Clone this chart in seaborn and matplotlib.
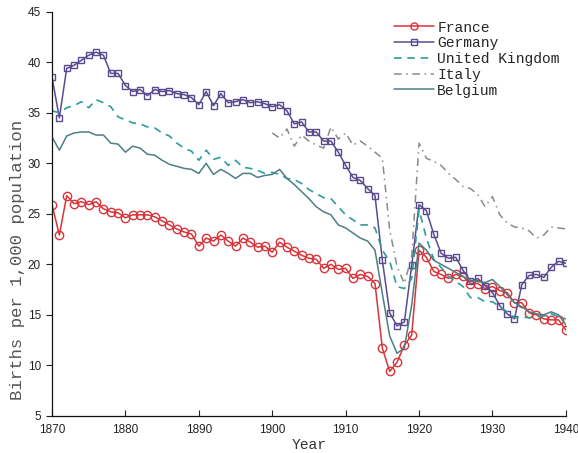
import numpy as np
import pandas as pd
import matplotlib
matplotlib.use("Agg")
import matplotlib.pyplot as plt
import seaborn as sns

years = list(range(1870, 1941))
italy_years = list(range(1900, 1941))

france = [25.9, 22.9, 26.8, 26.0, 26.2, 25.9, 26.2, 25.5, 25.2, 25.1,
          24.6, 24.9, 24.9, 24.9, 24.7, 24.3, 23.9, 23.5, 23.2, 23.0,
          21.8, 22.6, 22.3, 22.9, 22.3, 21.8, 22.6, 22.2, 21.7, 21.8,
          21.2, 22.2, 21.7, 21.3, 20.9, 20.6, 20.5, 19.6, 20.0, 19.5,
          19.6, 18.6, 19.0, 18.8, 18.1, 11.7, 9.4, 10.3, 12.0, 13.0,
          21.4, 20.7, 19.3, 19.0, 18.6, 19.0, 18.8, 18.1, 18.1, 17.6,
          17.8, 17.4, 17.2, 16.2, 16.2, 15.2, 15.0, 14.6, 14.5, 14.5, 13.5]

germany = [38.5, 34.5, 39.4, 39.7, 40.2, 40.7, 41.0, 40.7, 38.9, 38.9,
           37.7, 37.1, 37.3, 36.7, 37.3, 37.1, 37.2, 36.9, 36.8, 36.5,
           35.8, 37.1, 35.7, 36.9, 36.0, 36.1, 36.3, 36.0, 36.1, 35.9,
           35.6, 35.8, 35.2, 33.9, 34.1, 33.1, 33.1, 32.2, 32.2, 31.1,
           29.8, 28.6, 28.3, 27.5, 26.8, 20.4, 15.2, 13.9, 14.3, 19.9,
           25.9, 25.3, 23.0, 21.1, 20.6, 20.7, 19.4, 18.3, 18.6, 17.9,
           17.2, 15.9, 15.1, 14.6, 18.0, 18.9, 19.0, 18.7, 19.7, 20.3, 20.1]

uk = [35.2, 35.0, 35.5, 35.7, 36.1, 35.5, 36.3, 36.0, 35.6, 34.6,
      34.3, 34.0, 33.9, 33.6, 33.5, 33.0, 32.7, 32.0, 31.5, 31.2,
      30.3, 31.3, 30.4, 30.6, 29.8, 30.3, 29.6, 29.5, 29.3, 29.0,
      29.1, 28.9, 28.5, 28.4, 28.0, 27.4, 27.0, 26.6, 26.5, 25.7,
      24.9, 24.4, 23.9, 23.9, 23.6, 21.4, 20.3, 17.8, 17.6, 18.6,
      25.4, 22.6, 20.5, 19.7, 18.8, 18.3, 17.8, 16.7, 16.7, 16.3,
      16.3, 15.8, 15.3, 14.7, 14.8, 14.7, 14.8, 14.9, 15.1, 14.8, 14.6]

belgium = [32.6, 31.3, 32.7, 33.0, 33.1, 33.1, 32.8, 32.8, 32.0, 31.9,
           31.1, 31.7, 31.5, 30.9, 30.8, 30.3, 29.9, 29.7, 29.5, 29.4,
           29.0, 30.0, 28.9, 29.4, 29.0, 28.5, 29.0, 29.0, 28.6, 28.8,
           28.9, 29.4, 28.5, 27.9, 27.2, 26.5, 25.7, 25.2, 24.9, 23.9,
           23.6, 23.1, 22.6, 22.3, 21.4, 17.1, 12.9, 11.2, 11.7, 16.0,
           22.1, 21.4, 20.4, 20.0, 19.6, 19.2, 18.8, 18.4, 18.3, 18.2,
           18.5, 17.8, 17.0, 16.2, 15.8, 15.3, 15.1, 15.0, 15.3, 15.0, 14.0]

italy = [33.0, 32.5, 33.4, 31.7, 32.8, 32.2, 31.8, 31.5, 33.6, 32.4,
         33.0, 31.8, 32.2, 31.7, 31.1, 30.5, 23.4, 19.8, 18.1, 20.8,
         32.0, 30.5, 30.2, 29.8, 29.0, 28.4, 27.7, 27.5, 26.9, 25.7,
         26.7, 24.9, 24.1, 23.7, 23.6, 23.3, 22.6, 22.9, 23.7, 23.6, 23.5]

x_ticks = [1870, 1880, 1890, 1900, 1910, 1920, 1930, 1940]
y_ticks = [5, 10, 15, 20, 25, 30, 35, 40, 45]

sns.set_style("ticks")
plt.rcParams['font.family'] = ['Liberation Sans', 'DejaVu Sans']

fig = plt.figure(figsize=(5.78, 4.53), dpi=100)
ax = fig.add_axes([0.090, 0.082, 0.889, 0.892])

series = [
    ("France", years, france, dict(color="#d8343a", marker="o", ms=6.0, mew=1.0, ls="-", lw=1.1)),
    ("Germany", years, germany, dict(color="#5a4a8e", marker="s", ms=5.0, mew=1.0, ls="-", lw=1.1)),
    ("United Kingdom", years, uk, dict(color="#2e9c9c", marker=None, ls=(0, (4.5, 3.5)), lw=1.2)),
    ("Italy", italy_years, italy, dict(color="#8a8a8a", marker=None, ls=(0, (5, 3, 1, 3)), lw=1.1)),
    ("Belgium", years, belgium, dict(color="#4c7f82", marker=None, ls="-", lw=1.1)),
]

for name, xs, ys, st in series:
    df = pd.DataFrame({"Year": xs, "Rate": ys})
    kw = dict(color=st["color"], linestyle=st["ls"], linewidth=st["lw"])
    if st.get("marker"):
        kw.update(marker=st["marker"], markersize=st["ms"], markerfacecolor="none",
                  markeredgecolor=st["color"], markeredgewidth=st["mew"])
    sns.lineplot(data=df, x="Year", y="Rate", ax=ax, label=name, **kw)

ax.set_xlim(1870, 1940)
ax.set_ylim(5, 45)
ax.set_xticks(x_ticks)
ax.set_yticks(y_ticks)
ax.tick_params(axis='both', labelsize=8.5, colors="#222222", width=0.8, pad=4)
ax.tick_params(axis='x', direction='in', length=4, pad=6)
ax.tick_params(axis='y', direction='out', length=4)
for s in ["top", "right"]:
    ax.spines[s].set_visible(False)
for s in ["left", "bottom"]:
    ax.spines[s].set_linewidth(0.9)
    ax.spines[s].set_color("#111111")

ax.set_xlabel("Year", family="Liberation Mono", fontsize=10.5, color="#333333", labelpad=1)
ax.set_ylabel("Births per 1,000 population", family="Liberation Mono", fontsize=12.5,
              color="#555555")
ax.yaxis.set_label_coords(-0.052, 0.385)

leg = ax.legend(loc="upper right", bbox_to_anchor=(1.005, 1.0), frameon=False,
                prop={"family": "Liberation Mono", "size": 10.5}, handlelength=2.7,
                handletextpad=0.25, labelspacing=0.12, borderaxespad=0.2, markerscale=0.85)

fig.savefig("out.png", dpi=100, facecolor="white")
